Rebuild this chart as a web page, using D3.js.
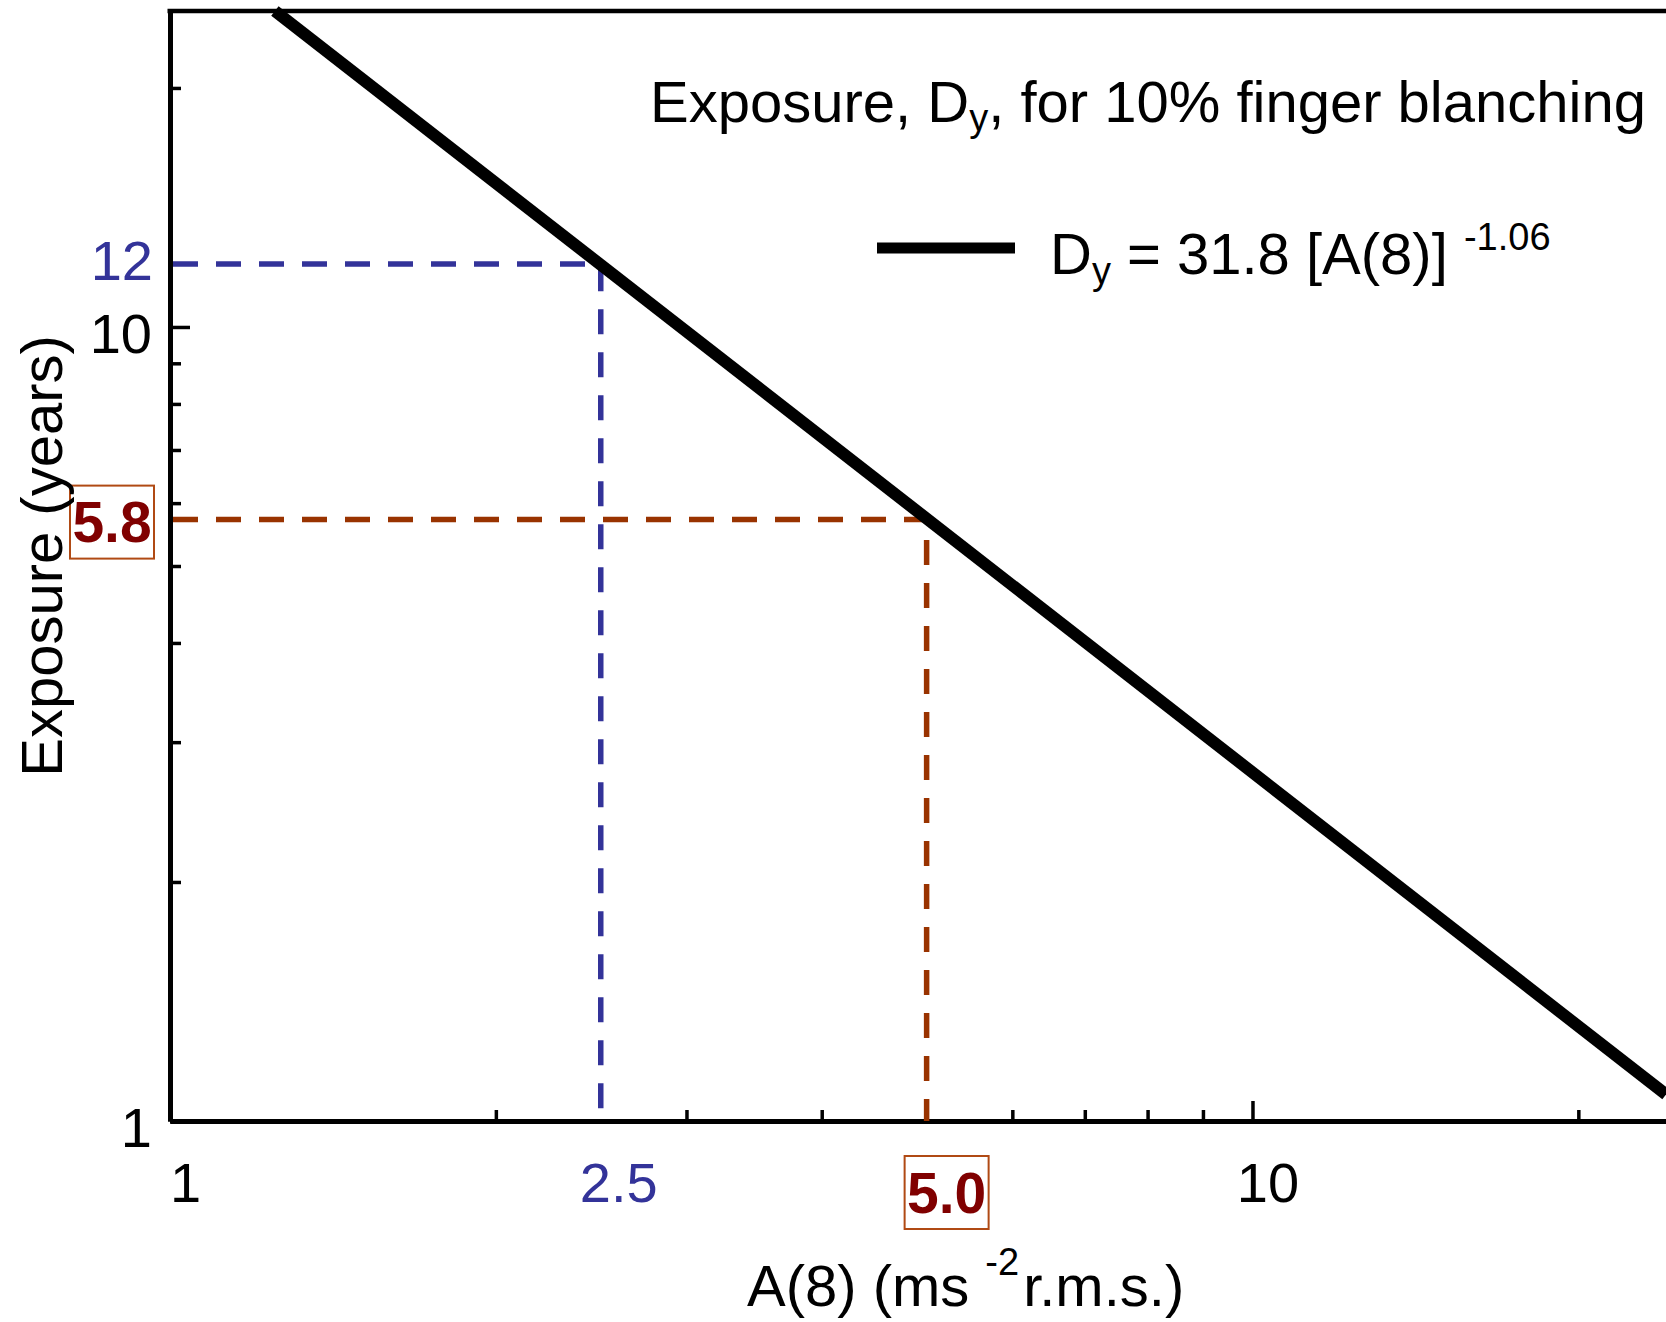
<!DOCTYPE html>
<html>
<head>
<meta charset="utf-8">
<script src="https://d3js.org/d3.v7.min.js"></script>
<style>
  body { margin: 0; background: #fff; }
  svg { display: block; font-family: "Liberation Sans", Arial, sans-serif; }
</style>
</head>
<body>
<div id="chart"></div>
<script>
// values
let xMajorTicks = [1, 10];
let xMinorTicks = [2, 3, 4, 5, 6, 7, 8, 9, 20];
let yMajorTicks = [1, 10];
let yMinorTicks = [2, 3, 4, 5, 6, 7, 8, 9, 20];
let fitA = [1.25, 24.1];      // A(8) at both ends of the fitted line
let fitD = [25, 1.08];        // Dy at both ends
let guideA = [2.5, 5.0];
let guideD = [12.0, 5.72];
let guideLabelX = ["2.5", "5.0"];
let guideLabelY = ["12", "5.8"];

let chartW = 1666, chartH = 1322;
let plotLeft = 170, plotTop = 11, plotBottom = 1121;

let blue = "#333399";
let rust = "#993300";
let darkRed = "#800000";
let boxStroke = "#b04a14";

let svg = d3.select("#chart").append("svg")
  .attr("width", chartW)
  .attr("height", chartH);

let x = d3.scaleLog().domain([1, 24.1]).range([plotLeft, chartW]);
let y = d3.scaleLog().domain([1, 25]).range([plotBottom, plotTop]);

//axes, ticks pointing into the plot
function styleAxis(g) {
  g.select(".domain").attr("stroke-width", 5);
  g.selectAll(".tick line").attr("stroke-width", 3.5);
  g.selectAll("text")
    .attr("font-size", 56)
    .attr("font-family", "Liberation Sans, Arial, sans-serif")
    .attr("fill", "#000");
}

svg.append("g")
  .attr("transform", "translate(0," + plotBottom + ")")
  .call(d3.axisBottom(x).tickValues(xMinorTicks).tickSize(-11).tickSizeOuter(0).tickFormat(""))
  .call(styleAxis);

svg.append("g")
  .attr("transform", "translate(0," + plotBottom + ")")
  .call(d3.axisBottom(x).tickValues(xMajorTicks).tickSize(-20).tickSizeOuter(0).tickPadding(41).tickFormat(d3.format("d")))
  .call(styleAxis)
  .call(g => g.selectAll("text").attr("dx", 15));

svg.append("g")
  .attr("transform", "translate(" + plotLeft + ",0)")
  .call(d3.axisLeft(y).tickValues(yMinorTicks).tickSize(-11).tickSizeOuter(0).tickFormat(""))
  .call(styleAxis);

svg.append("g")
  .attr("transform", "translate(" + plotLeft + ",0)")
  .call(d3.axisLeft(y).tickValues(yMajorTicks).tickSize(-20).tickSizeOuter(0).tickPadding(18).tickFormat(d3.format("d")))
  .call(styleAxis)
  .call(g => g.selectAll("text").attr("dy", "0.45em"));

// top frame
svg.append("line")
  .attr("x1", plotLeft - 2.5).attr("x2", chartW)
  .attr("y1", plotTop).attr("y2", plotTop)
  .attr("stroke", "#000").attr("stroke-width", 4.5);

// dashed read-off lines
let guideColors = [blue, rust];
guideA.forEach((a, i) => {
  svg.append("path")
    .attr("d", d3.line()([[plotLeft + 3, y(guideD[i])], [x(a), y(guideD[i])], [x(a), plotBottom]]))
    .attr("fill", "none")
    .attr("stroke", guideColors[i])
    .attr("stroke-width", 5.5)
    .attr("stroke-dasharray", "25,18");
});

// fitted line
svg.append("path")
  .attr("d", d3.line()(fitA.map((a, i) => [x(a), y(fitD[i])])))
  .attr("stroke", "#000")
  .attr("stroke-width", 12)
  .attr("fill", "none");

// blue labels
svg.append("text")
  .attr("x", plotLeft - 17).attr("y", y(guideD[0]) - 4)
  .attr("dy", "0.36em")
  .attr("text-anchor", "end")
  .attr("font-size", 56)
  .attr("fill", blue)
  .text(guideLabelY[0]);

svg.append("text")
  .attr("x", x(guideA[0]) + 18).attr("y", plotBottom + 41)
  .attr("dy", "0.71em")
  .attr("text-anchor", "middle")
  .attr("font-size", 56)
  .attr("fill", blue)
  .text(guideLabelX[0]);

// boxed labels
function boxedLabel(cx, cy, txt) {
  svg.append("rect")
    .attr("x", cx - 42).attr("y", cy - 36)
    .attr("width", 84).attr("height", 73)
    .attr("fill", "#fff")
    .attr("stroke", boxStroke)
    .attr("stroke-width", 2);
  svg.append("text")
    .attr("x", cx).attr("y", cy)
    .attr("dy", "0.36em")
    .attr("text-anchor", "middle")
    .attr("font-size", 57)
    .attr("font-weight", "bold")
    .attr("fill", darkRed)
    .text(txt);
}
boxedLabel(plotLeft - 58, y(guideD[1]) + 2, guideLabelY[1]);
boxedLabel(x(guideA[1]) + 20, plotBottom + 71, guideLabelX[1]);

// title
let title = svg.append("text")
  .attr("x", 650).attr("y", 122)
  .attr("font-size", 58);
title.append("tspan").text("Exposure, D");
title.append("tspan").attr("font-size", 38).attr("dy", 9).text("y");
title.append("tspan").attr("dy", -9).text(", for 10% finger blanching");

// legend
svg.append("line")
  .attr("x1", 877).attr("x2", 1015)
  .attr("y1", 248).attr("y2", 248)
  .attr("stroke", "#000").attr("stroke-width", 11);

let legend = svg.append("text")
  .attr("x", 1050).attr("y", 274)
  .attr("font-size", 58);
legend.append("tspan").text("D");
legend.append("tspan").attr("font-size", 38).attr("dy", 10).text("y");
legend.append("tspan").attr("dy", -10).text(" = 31.8 [A(8)] ");
legend.append("tspan").attr("font-size", 38).attr("dy", -24).text("-1.06");

// axis titles
let xTitle = svg.append("text")
  .attr("x", 747).attr("y", 1306)
  .attr("font-size", 58);
xTitle.append("tspan").text("A(8) (ms");
xTitle.append("tspan").attr("font-size", 38).attr("dx", 16).attr("dy", -31).text("-2");
xTitle.append("tspan").attr("dx", 4).attr("dy", 31).text("r.m.s.)");

svg.append("text")
  .attr("transform", "translate(62,556) rotate(-90)")
  .attr("text-anchor", "middle")
  .attr("font-size", 58)
  .text("Exposure (years)");
</script>
</body>
</html>
